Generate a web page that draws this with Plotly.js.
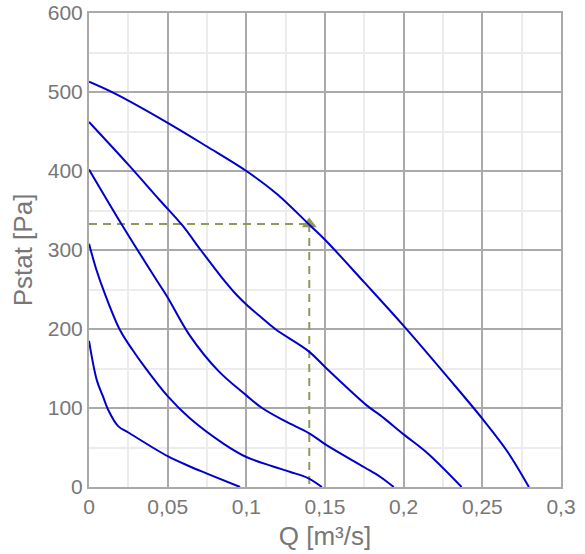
<!DOCTYPE html>
<html>
<head>
<meta charset="utf-8">
<script src="https://cdn.plot.ly/plotly-3.0.1.min.js"></script>
<style>html,body{margin:0;padding:0;background:#fff;}#chart{width:585px;height:554px;}</style>
</head>
<body>
<div id="chart"></div>
<script>
// Fan curves: Q [m³/s] vs Pstat [Pa]
const q1 = [0, 0.0175, 0.05, 0.075, 0.1, 0.12, 0.14, 0.15, 0.175, 0.2, 0.2297, 0.2506, 0.2659, 0.2796];
const p1 = [513, 497, 461, 431, 400, 370, 332, 313, 259, 204, 135, 85, 45, 0];

const q2 = [0, 0.025, 0.045, 0.059, 0.071, 0.0833, 0.0939, 0.1, 0.1087, 0.119, 0.1395, 0.151, 0.1767, 0.185, 0.2004, 0.215, 0.2368];
const p2 = [462, 408, 363, 332, 300, 268, 243, 231, 216, 199, 172, 150, 103, 91, 66, 43, 0];

const q3 = [0, 0.0206, 0.0429, 0.05, 0.064, 0.0822, 0.1, 0.11, 0.125, 0.14, 0.151, 0.175, 0.185, 0.1937];
const p3 = [402, 333, 262, 240, 192, 147, 116, 100, 83, 68, 53, 25, 13, 0];

const q4 = [0, 0.0047, 0.01, 0.0196, 0.0275, 0.035, 0.05, 0.0641, 0.0854, 0.1, 0.117, 0.128, 0.1395, 0.148];
const p4 = [308, 275, 245, 199, 174, 153, 115, 87, 55, 38, 26, 19, 11, 0];

const q5 = [0, 0.005, 0.009, 0.0121, 0.0185, 0.025, 0.05, 0.0641, 0.075, 0.096];
const p5 = [185, 135, 114, 98, 77, 69, 39, 26, 17, 0];

// Operating point
const opQ = [0.14];
const opP = [333];

const xTickVals = [0, 0.05, 0.1, 0.15, 0.2, 0.25, 0.3];
const yTickVals = [0, 100, 200, 300, 400, 500, 600];

const curveColor = '#0000cc';
const opColor = '#8f9a5a';

const curves = [[q1,p1],[q2,p2],[q3,p3],[q4,p4],[q5,p5]];
const traces = [];

traces.push({x:[0, opQ[0]], y:[opP[0], opP[0]], mode:'lines', line:{color:opColor, width:2, dash:'8px,6px'}, hoverinfo:'skip', showlegend:false});
traces.push({x:[opQ[0], opQ[0]], y:[opP[0], 0], mode:'lines', line:{color:opColor, width:2, dash:'8px,6px'}, hoverinfo:'skip', showlegend:false});
traces.push({x:opQ, y:opP, mode:'markers', marker:{symbol:'triangle-up', size:13, color:opColor}, showlegend:false});

curves.forEach(c => {
  traces.push({x:c[0], y:c[1], mode:'lines', line:{color:curveColor, width:2, shape:'spline', smoothing:1}, showlegend:false});
});

const tickFont = {family:'"Liberation Sans", Arial, sans-serif', size:21, color:'#777'};
const titleFont = {family:'"Liberation Sans", Arial, sans-serif', size:26, color:'#777'};

const layout = {
  width:585, height:554,
  margin:{l:89, r:24, t:13, b:67},
  paper_bgcolor:'#fff', plot_bgcolor:'#fff',
  separators:',.',
  showlegend:false,
  xaxis:{
    range:[0,0.3], tickvals:xTickVals, tickfont:tickFont,
    showgrid:true, gridcolor:'#aaaaaa', gridwidth:2,
    zeroline:false, showline:true, mirror:true, linecolor:'#aaaaaa', linewidth:2,
    ticks:'', ticklen:0,
    minor:{dtick:0.025, tick0:0, showgrid:true, gridcolor:'#ececec', gridwidth:2},
    title:{text:'Q [m³/s]', font:titleFont, standoff:10}
  },
  yaxis:{
    range:[0,600], tickvals:yTickVals, tickfont:tickFont,
    showgrid:true, gridcolor:'#aaaaaa', gridwidth:2,
    zeroline:false, showline:true, mirror:true, linecolor:'#aaaaaa', linewidth:2,
    ticks:'', ticklen:0,
    minor:{dtick:50, tick0:0, showgrid:true, gridcolor:'#ececec', gridwidth:2},
    title:{text:'Pstat [Pa]', font:titleFont, standoff:8}
  }
};

Plotly.newPlot('chart', traces, layout, {displayModeBar:false, staticPlot:true});
</script>
</body>
</html>
